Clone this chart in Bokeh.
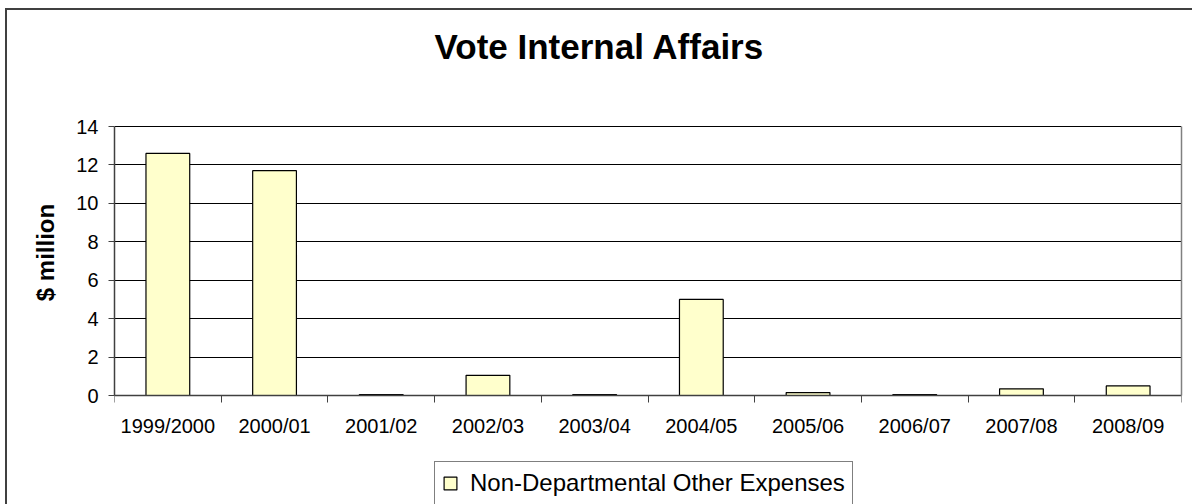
from bokeh.plotting import figure
from bokeh.models import (Range1d, FixedTicker, Legend, LegendItem, Label,
                          ColumnDataSource, LinearAxis)
from bokeh.embed import file_html
from bokeh.resources import INLINE
import numpy as np

title = "Vote Internal Affairs"
categories = ["1999/2000", "2000/01", "2001/02", "2002/03", "2003/04",
              "2004/05", "2005/06", "2006/07", "2007/08", "2008/09"]
values = [12.6, 11.7, 0.05, 1.05, 0.05, 5.0, 0.15, 0.05, 0.35, 0.5]
series_name = "Non-Departmental Other Expenses"
y_ticks = [0, 2, 4, 6, 8, 10, 12, 14]
y_label = "$ million"

FONT = "Liberation Sans"
Y_MAX = 14

n = len(categories)
centers = list(np.arange(n) + 0.5)
src = ColumnDataSource(dict(x=centers, top=values, cat=categories))

# plot area: y=0 at 395px, y=14 at 126px of a 504px canvas
ppu = (395 - 126) / Y_MAX
y_lo = -(504 - 395) / ppu
y_hi = Y_MAX + 126 / ppu

p = figure(width=1192, height=504, output_backend="svg", toolbar_location=None,
           x_range=Range1d(0, n), y_range=Range1d(y_lo, y_hi),
           min_border_left=114, min_border_right=11, min_border_top=0,
           min_border_bottom=0)
p.outline_line_color = None
p.background_fill_color = None
p.border_fill_color = None
# outer chart-area border (left and top edges visible in the window)
p.styles = {
    "background-color": "white",
    "background-image": "linear-gradient(#404040, #404040), linear-gradient(#404040, #404040)",
    "background-size": "2px 100%, 100% 2px",
    "background-position": "5px 8px, 5px 8px",
    "background-repeat": "no-repeat",
}

r = p.vbar(x="x", top="top", bottom=0, width=0.41, source=src,
           fill_color="#FFFFCC", line_color="black", line_width=1.2)

# x axis at y=0: labels at category centres, tick marks at category boundaries
xa = p.xaxis[0]
xa.fixed_location = 0
xa.ticker = FixedTicker(ticks=centers, minor_ticks=list(range(n + 1)))
xa.major_label_overrides = {c: lab for c, lab in zip(centers, categories)}
xa.major_tick_line_color = None
xa.major_tick_out = 7
xa.major_tick_in = 0
xa.minor_tick_out = 7
xa.minor_tick_in = 0
xa.minor_tick_line_color = "#404040"
xa.axis_line_color = "#404040"
xa.axis_line_width = 1.5
xa.major_label_standoff = 12
xa.major_label_text_font = FONT
xa.major_label_text_font_size = "20px"
xa.major_label_text_color = "black"

ya = p.yaxis[0]
ya.bounds = (0, Y_MAX)
ya.ticker = FixedTicker(ticks=y_ticks, minor_ticks=[])
ya.major_tick_out = 6
ya.major_tick_in = 0
ya.major_tick_line_color = "#404040"
ya.axis_line_color = "#404040"
ya.axis_line_width = 1.5
ya.major_label_standoff = 10
ya.major_label_text_font = FONT
ya.major_label_text_font_size = "20px"
ya.major_label_text_color = "black"
ya.axis_label = y_label
ya.axis_label_text_font = FONT
ya.axis_label_text_font_size = "24px"
ya.axis_label_text_font_style = "bold"
ya.axis_label_text_color = "black"
ya.axis_label_standoff = 14

# right edge of the plot area
ra = LinearAxis(bounds=(0, Y_MAX), ticker=FixedTicker(ticks=[], minor_ticks=[]),
                major_tick_out=0, major_tick_in=0, major_label_standoff=0,
                major_label_text_font_size="0px", axis_line_color="#808080",
                axis_line_width=1.5)
p.add_layout(ra, "right")

p.xgrid.grid_line_color = None
p.ygrid.grid_line_color = "black"
p.ygrid.grid_line_width = 1

p.add_layout(Label(x=485, y=458, x_units="screen", y_units="screen", text=title,
                   text_font=FONT, text_font_size="35px", text_font_style="bold",
                   text_align="center", text_baseline="middle", text_color="black"))

legend = Legend(items=[LegendItem(label=series_name, renderers=[r])],
                location=(320, -1), orientation="horizontal",
                border_line_color="black", border_line_width=1.2,
                background_fill_color="white", background_fill_alpha=1,
                padding=7, margin=0, glyph_width=16, glyph_height=16,
                label_standoff=12, label_height=27,
                label_text_font=FONT, label_text_font_size="24px",
                label_text_color="black")
p.add_layout(legend, "center")

open("out.html", "w").write(file_html(p, INLINE))
